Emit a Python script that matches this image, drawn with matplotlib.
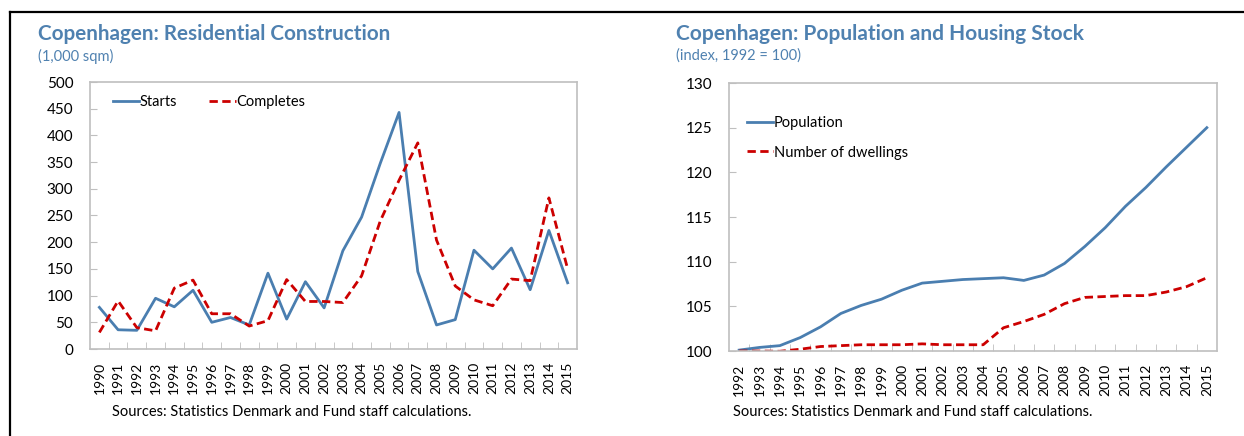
import numpy as np
import matplotlib.pyplot as plt
from matplotlib.lines import Line2D

plt.rcParams['font.family'] = ['Lato', 'DejaVu Sans']

# left chart: residential construction (1,000 sqm)
years_a = [str(y) for y in range(1990, 2016)]
starts = [78, 36, 35, 95, 79, 110, 50, 59, 45, 142, 56, 126, 77, 184, 247, 348,
          443, 145, 45, 55, 185, 150, 189, 111, 222, 124]
completes = [31, 90, 40, 34, 114, 129, 66, 66, 43, 53, 130, 89, 89, 87, 137, 240,
             316, 386, 204, 118, 92, 81, 131, 128, 283, 150]

# right chart: population and housing stock (index, 1992 = 100)
years_b = [str(y) for y in range(1992, 2016)]
population = [100.1, 100.4, 100.6, 101.5, 102.7, 104.2, 105.1, 105.8, 106.8, 107.6,
              107.8, 108.0, 108.1, 108.2, 107.9, 108.5, 109.8, 111.7, 113.8, 116.2,
              118.3, 120.6, 122.8, 125.0]
dwellings = [100.0, 100.0, 99.97, 100.2, 100.5, 100.6, 100.7, 100.7, 100.7, 100.8,
             100.7, 100.7, 100.7, 102.6, 103.3, 104.1, 105.3, 106.0, 106.1, 106.2,
             106.2, 106.6, 107.2, 108.2]

blue = '#4a7eb0'
red = '#cc0000'
title_col = '#4f81b0'
W, H = 1244, 436

fig = plt.figure(figsize=(W / 100, H / 100), dpi=100)


def setup(ax, cats, ylim, yticks):
    n = len(cats)
    ax.set_xlim(-0.5, n - 0.5)
    ax.set_ylim(*ylim)
    ax.set_yticks(yticks)
    ax.set_xticks(range(n))
    ax.set_xticklabels(cats, rotation=90, fontsize=10)
    ax.tick_params(axis='x', length=0, pad=9)
    ax.set_xticks(np.arange(0.5, n - 0.5, 1), minor=True)
    ax.tick_params(axis='x', which='minor', direction='in', length=5, color='#bfbfbf')
    ax.tick_params(axis='y', direction='in', length=5, color='#bfbfbf', labelsize=11, pad=12)
    for s in ax.spines.values():
        s.set_color('#bfbfbf')
        s.set_linewidth(1.2)


# left panel
ax1 = fig.add_axes([90 / W, 1 - 349 / H, 487 / W, 267 / H])
x_a = np.arange(len(years_a))
ax1.plot(x_a, starts, color=blue, lw=2, label='Starts')
ax1.plot(x_a, completes, color=red, lw=2, ls=(0, (3, 1.6)), label='Completes')
setup(ax1, years_a, (0, 500), range(0, 501, 50))
ax1.legend(loc='upper left', ncol=2, frameon=False, fontsize=10.5,
           handlelength=1.8, handletextpad=0.05, columnspacing=2.2,
           bbox_to_anchor=(0.02, 1.0))

# right panel
ax2 = fig.add_axes([729 / W, 1 - 351 / H, 488 / W, 268 / H])
x_b = np.arange(len(years_b))
ax2.plot(x_b, population, color=blue, lw=2, label='Population')
ax2.plot(x_b, dwellings, color=red, lw=2, ls=(0, (3, 1.6)), label='Number of dwellings')
setup(ax2, years_b, (100, 130), range(100, 131, 5))
ax2.legend(loc='upper left', frameon=False, fontsize=10.5,
           handlelength=1.8, handletextpad=0.05, labelspacing=1.05,
           bbox_to_anchor=(0.01, 0.925))

# titles and notes
fig.text(38 / W, 1 - 34 / H, 'Copenhagen: Residential Construction', fontsize=14.9,
         fontweight='bold', color=title_col, va='center')
fig.text(38 / W, 1 - 56 / H, '(1,000 sqm)', fontsize=10.5, color=title_col, va='center')
fig.text(676 / W, 1 - 34 / H, 'Copenhagen: Population and Housing Stock', fontsize=15,
         fontweight='bold', color=title_col, va='center')
fig.text(676 / W, 1 - 56 / H, '(index, 1992 = 100)', fontsize=10.5, color=title_col, va='center')
fig.text(112 / W, 1 - 412 / H, 'Sources: Statistics Denmark and Fund staff calculations.',
         fontsize=10.5, va='center')
fig.text(733 / W, 1 - 412 / H, 'Sources: Statistics Denmark and Fund staff calculations.',
         fontsize=10.5, va='center')

# frame lines
fig.add_artist(Line2D([10 / W, 1], [1 - 12 / H, 1 - 12 / H], color='black', lw=1.6))
fig.add_artist(Line2D([10 / W, 10 / W], [0, 1 - 12 / H], color='black', lw=1.6))

fig.savefig('out.png', dpi=100)
